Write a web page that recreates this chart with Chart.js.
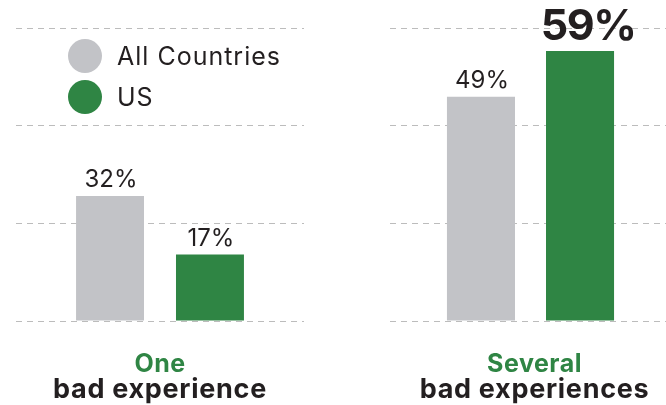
<!DOCTYPE html>
<html lang="en">
  <head>
    <meta charset="UTF-8" />
    <meta name="viewport" content="width=device-width, initial-scale=1.0" />
    <script src="https://cdn.jsdelivr.net/npm/chart.js@4.4.1/dist/chart.umd.min.js"></script>
    <title>Bad experiences</title>
    <style>
      html,
      body {
        margin: 0;
        padding: 0;
        width: 666px;
        height: 405px;
        overflow: hidden;
        background: #fff;
      }
      canvas {
        position: absolute;
        top: 0;
      }
      #chartOne {
        left: 0;
      }
      #chartSeveral {
        left: 333px;
      }
    </style>
  </head>
  <body>
    <canvas id="chartOne" width="333" height="405"></canvas>
    <canvas id="chartSeveral" width="345" height="405"></canvas>
    <script>
      const groups = ["One", "Several"];
      const groupSubtitles = ["bad experience", "bad experiences"];
      const seriesNames = ["All Countries", "US"];
      const allCountries = [32, 49];
      const us = [17, 59];

      const GRAY = "#c2c3c7";
      const GREEN = "#2f8544";
      const INK = "#231f20";
      const FONT = "Inter, 'Noto Sans', sans-serif";

      // percentage above each bar, one of them can be emphasised
      const valueLabels = {
        id: "valueLabels",
        afterDatasetsDraw(chart, args, opts) {
          const ctx = chart.ctx;
          ctx.save();
          ctx.textAlign = "center";
          ctx.textBaseline = "alphabetic";
          ctx.fillStyle = INK;
          chart.data.datasets.forEach((ds, i) => {
            chart.getDatasetMeta(i).data.forEach((bar, j) => {
              const big = opts.emphasis === i;
              ctx.font = big ? `700 43px ${FONT}` : `400 24px ${FONT}`;
              ctx.letterSpacing = big ? "-1.5px" : "0px";
              ctx.fillText(ds.data[j] + "%", bar.x + (big ? 8 : 1), bar.y - (big ? 11 : 9));
            });
          });
          ctx.restore();
        },
      };

      // two-line group name under the bars
      const groupLabel = {
        id: "groupLabel",
        afterDraw(chart, args, opts) {
          const ctx = chart.ctx;
          const x = chart.scales.x.getPixelForTick(0) + (opts.dx || 0);
          ctx.save();
          ctx.textAlign = "center";
          ctx.textBaseline = "alphabetic";
          ctx.letterSpacing = "0.5px";
          ctx.font = `700 25px ${FONT}`;
          ctx.fillStyle = GREEN;
          ctx.fillText(chart.data.labels[0], x, 372);
          ctx.letterSpacing = "0.7px";
          ctx.font = `700 27px ${FONT}`;
          ctx.fillStyle = INK;
          ctx.fillText(opts.subtitle, x, 398);
          ctx.restore();
        },
      };

      // round swatches stacked inside the plot
      const dotLegend = {
        id: "dotLegend",
        afterDraw(chart, args, opts) {
          if (!opts.show) return;
          const ctx = chart.ctx;
          ctx.save();
          ctx.textAlign = "left";
          ctx.textBaseline = "middle";
          ctx.letterSpacing = "1px";
          chart.data.datasets.forEach((ds, i) => {
            const y = 56 + i * 41;
            ctx.beginPath();
            ctx.arc(85, y, 17, 0, Math.PI * 2);
            ctx.fillStyle = ds.backgroundColor;
            ctx.fill();
            ctx.font = `400 25px ${FONT}`;
            ctx.fillStyle = INK;
            ctx.fillText(ds.label, 117, y + 1);
          });
          ctx.restore();
        },
      };

      function makePanel(id, k, cfg) {
        return new Chart(document.getElementById(id), {
          type: "bar",
          data: {
            labels: [groups[k]],
            datasets: [
              { label: seriesNames[0], data: [allCountries[k]], backgroundColor: GRAY },
              { label: seriesNames[1], data: [us[k]], backgroundColor: GREEN },
            ],
          },
          options: {
            responsive: false,
            animation: false,
            layout: { padding: cfg.padding },
            datasets: {
              bar: {
                categoryPercentage: cfg.catPct,
                barPercentage: cfg.barPct,
              },
            },
            scales: {
              x: { display: false },
              y: {
                min: 0,
                max: cfg.max,
                ticks: { display: false, count: 4 },
                grid: { color: "#bcbcbc", lineWidth: 1, drawTicks: false },
                border: { display: false, dash: [6, 5] },
              },
            },
            plugins: {
              legend: { display: false },
              tooltip: { enabled: false },
              valueLabels: { emphasis: cfg.emphasis },
              groupLabel: { subtitle: groupSubtitles[k], dx: cfg.dx },
              dotLegend: { show: cfg.legend },
            },
          },
          plugins: [valueLabels, groupLabel, dotLegend],
        });
      }

      makePanel("chartOne", 0, {
        padding: { left: 16, right: 29, top: 28, bottom: 84 },
        catPct: 0.694,
        barPct: 0.68,
        max: 75,
        dx: 0,
        legend: true,
        emphasis: -1,
      });

      makePanel("chartSeveral", 1, {
        padding: { left: 57, right: 7, top: 28, bottom: 84 },
        catPct: 0.705,
        barPct: 0.687,
        max: 64,
        dx: 4,
        legend: false,
        emphasis: 1,
      });
    </script>
  </body>
</html>
